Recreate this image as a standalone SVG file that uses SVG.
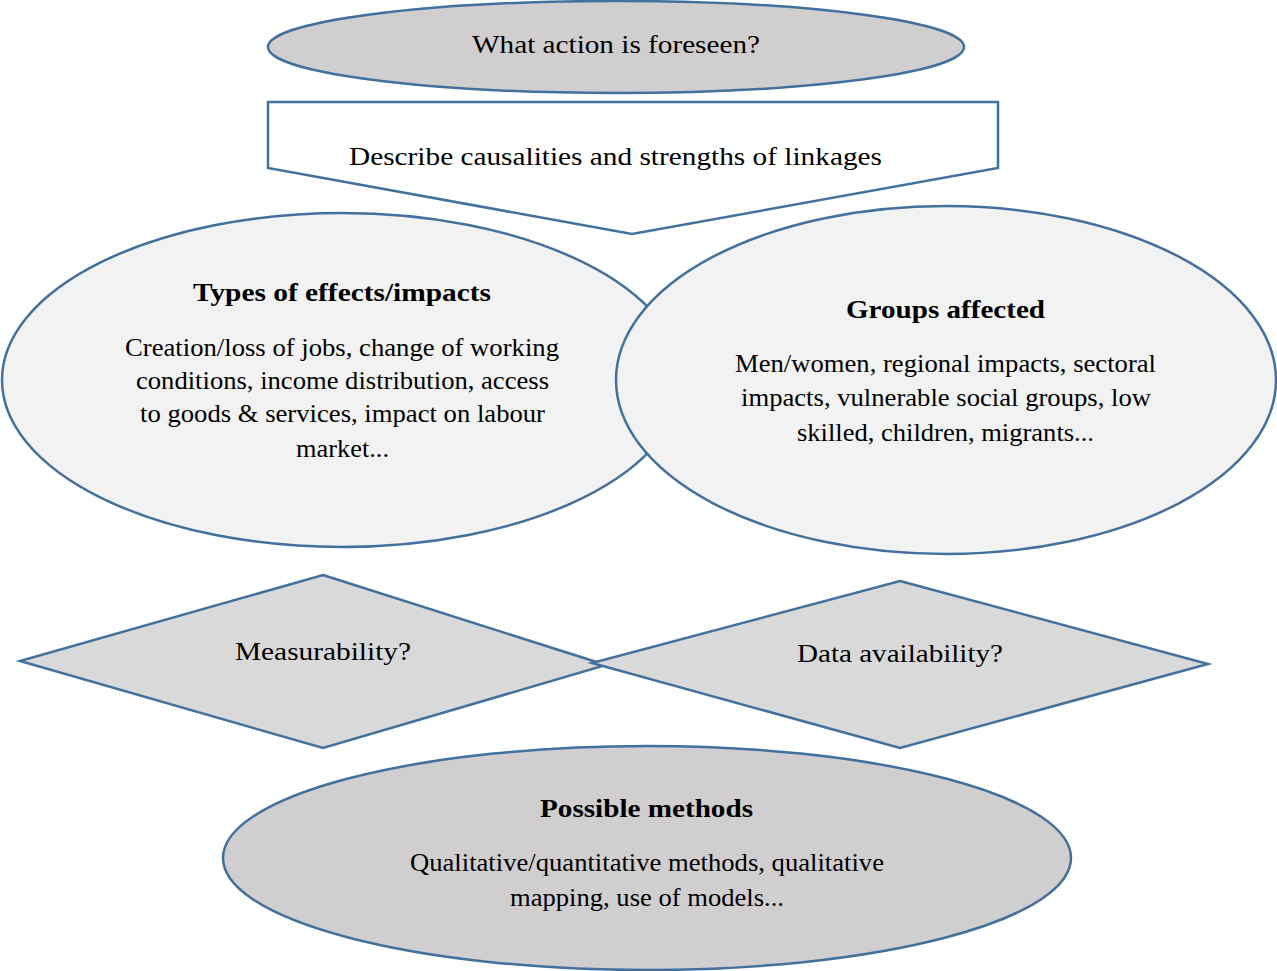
<svg xmlns="http://www.w3.org/2000/svg" width="1277" height="971" viewBox="0 0 1277 971">
<style>
.s{stroke:#41719c;stroke-width:2.5}
.g{fill:#d0cece}
.l{fill:#f2f2f2}
.t{font-family:'Liberation Serif','DejaVu Serif',serif;font-size:26px;fill:#000;text-anchor:middle}
.b{font-weight:bold}
</style>
<rect width="1277" height="971" fill="#fff"/>
<g id="action">
<ellipse class="s g" cx="616" cy="47" rx="348" ry="46"/>
<text class="t" font-family="Liberation Serif, serif" x="616" y="53" textLength="288" lengthAdjust="spacingAndGlyphs">What action is foreseen?</text>
</g>
<g id="describe">
<polygon class="s" fill="#fff" points="268,102 998,102 998,168 632,234 268,168"/>
<text class="t" font-family="Liberation Serif, serif" x="615.5" y="165" textLength="533" lengthAdjust="spacingAndGlyphs">Describe causalities and strengths of linkages</text>
</g>
<g id="types">
<ellipse class="s l" cx="342" cy="380" rx="340" ry="167"/>
<text class="t b" font-family="Liberation Serif, serif" x="342" y="301" textLength="298" lengthAdjust="spacingAndGlyphs">Types of effects/impacts</text>
<text class="t" font-family="Liberation Serif, serif" x="342" y="356" textLength="434" lengthAdjust="spacingAndGlyphs">Creation/loss of jobs, change of working</text>
<text class="t" font-family="Liberation Serif, serif" x="342.5" y="389" textLength="413" lengthAdjust="spacingAndGlyphs">conditions, income distribution, access</text>
<text class="t" font-family="Liberation Serif, serif" x="342.5" y="422" textLength="405" lengthAdjust="spacingAndGlyphs">to goods &amp; services, impact on labour</text>
<text class="t" font-family="Liberation Serif, serif" x="342.5" y="457" textLength="93" lengthAdjust="spacingAndGlyphs">market...</text>
</g>
<g id="groups">
<ellipse class="s l" cx="946" cy="380" rx="330" ry="174"/>
<text class="t b" font-family="Liberation Serif, serif" x="945.5" y="318" textLength="199" lengthAdjust="spacingAndGlyphs">Groups affected</text>
<text class="t" font-family="Liberation Serif, serif" x="945.5" y="372" textLength="421" lengthAdjust="spacingAndGlyphs">Men/women, regional impacts, sectoral</text>
<text class="t" font-family="Liberation Serif, serif" x="946" y="406" textLength="410" lengthAdjust="spacingAndGlyphs">impacts, vulnerable social groups, low</text>
<text class="t" font-family="Liberation Serif, serif" x="945.5" y="441" textLength="297" lengthAdjust="spacingAndGlyphs">skilled, children, migrants...</text>
</g>
<g id="measurability">
<polygon class="s" fill="#d9d9d9" points="323,575 606,665 323,748 20,661"/>
<text class="t" font-family="Liberation Serif, serif" x="323" y="660" textLength="176" lengthAdjust="spacingAndGlyphs">Measurability?</text>
</g>
<g id="data">
<polygon class="s" fill="#d9d9d9" points="900,581 1208,664 900,748 592,663"/>
<text class="t" font-family="Liberation Serif, serif" x="900" y="662" textLength="206" lengthAdjust="spacingAndGlyphs">Data availability?</text>
</g>
<g id="methods">
<ellipse class="s g" cx="647" cy="858" rx="424" ry="112"/>
<text class="t b" font-family="Liberation Serif, serif" x="646.5" y="817" textLength="213" lengthAdjust="spacingAndGlyphs">Possible methods</text>
<text class="t" font-family="Liberation Serif, serif" x="647" y="871" textLength="474" lengthAdjust="spacingAndGlyphs">Qualitative/quantitative methods, qualitative</text>
<text class="t" font-family="Liberation Serif, serif" x="647" y="906" textLength="274" lengthAdjust="spacingAndGlyphs">mapping, use of models...</text>
</g>
<g id="connectors"></g>
</svg>
